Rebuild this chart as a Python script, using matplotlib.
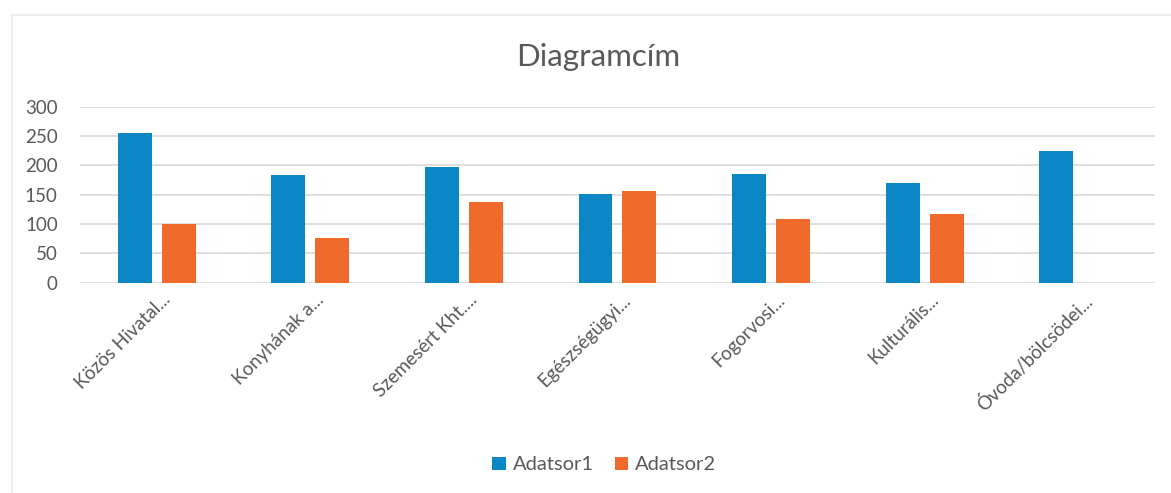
import numpy as np
import matplotlib
matplotlib.use("Agg")
import matplotlib.pyplot as plt
from matplotlib.lines import Line2D

plt.rcParams['font.family'] = ['Lato', 'DejaVu Sans']

# data
categories = ['Közös Hivatal...', 'Konyhának a...', 'Szemesért Kht....', 'Egészségügyi...',
              'Fogorvosi...', 'Kulturális...', 'Óvoda/bölcsödei...']
adatsor1 = [255, 183, 197, 152, 185, 170, 224]
adatsor2 = [100, 77, 138, 156, 108, 117, 0]
yticks = [0, 50, 100, 150, 200, 250, 300]

blue = '#0B87C6'
orange = '#F06B2B'
grey = '#595959'

fig = plt.figure(figsize=(11.71, 4.93), dpi=100)
ax = fig.add_axes([0.0683, 0.4266, 0.918, 0.357])

x = np.arange(len(categories))
w = 0.221
ax.bar(x - 0.143, adatsor1, w, color=blue, label='Adatsor1', zorder=3)
ax.bar(x + 0.143, adatsor2, w, color=orange, label='Adatsor2', zorder=3)

ax.set_xlim(-0.5, len(categories) - 0.5)
ax.set_ylim(0, 300)
ax.set_yticks(yticks)
ax.set_yticklabels([str(v) for v in yticks], fontsize=13.5, color=grey)
ax.yaxis.grid(True, color='#D9D9D9', linewidth=1.2, zorder=0)
ax.tick_params(axis='both', length=0)
ax.tick_params(axis='y', pad=16)
for s in ax.spines.values():
    s.set_visible(False)

ax.set_xticks(x + 0.03)
ax.set_xticklabels(categories, rotation=45, ha='right', va='top', rotation_mode='anchor',
                   fontsize=13.5, color=grey)
ax.tick_params(axis='x', pad=6)

fig.text(0.511, 0.885, 'Diagramcím', ha='center', va='center', fontsize=22.5, color=grey)

leg = fig.legend(loc='center', bbox_to_anchor=(0.516, 0.057), ncol=2, frameon=False,
                 fontsize=14.5, handlelength=0.65, handleheight=0.65, handletextpad=0.35,
                 columnspacing=1.05)
for t in leg.get_texts():
    t.set_color(grey)

# faint chart-area border (only top and left edges visible in the picture)
fig.add_artist(Line2D([12/1171, 1.0], [1 - 15/493, 1 - 15/493], transform=fig.transFigure,
                      color='#EBEBEB', linewidth=1.2))
fig.add_artist(Line2D([12/1171, 12/1171], [0, 1 - 15/493], transform=fig.transFigure,
                      color='#EBEBEB', linewidth=1.2))

fig.savefig('out.png', dpi=100, facecolor='white')
